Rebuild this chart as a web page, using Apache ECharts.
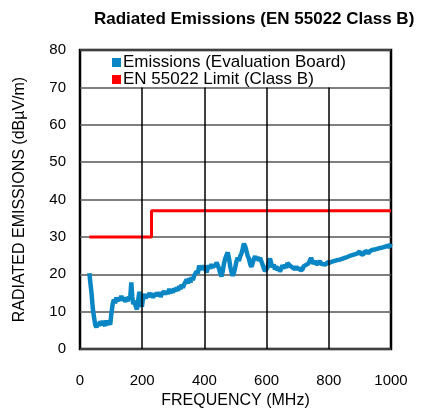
<!DOCTYPE html>
<html>
<head>
<meta charset="utf-8">
<script src="https://cdn.jsdelivr.net/npm/echarts@6/dist/echarts.min.js"></script>
<style>
    body { margin: 0; background: #fff; }
    #chart { width: 440px; height: 415px; }
</style>
</head>
<body>
<div id="chart"></div>
<script>
// Emissions trace (MHz, dBuV/m)
var freq = [30, 33, 37, 41, 45, 49, 53, 57, 61, 65, 69, 73, 77, 81, 85, 89, 93, 97, 101, 105,
    109, 113, 117, 121, 125, 129, 133, 137, 141, 145, 149, 153, 157, 161, 165, 168, 171, 175, 179, 183,
    187, 191, 195, 199, 203, 207, 211, 215, 219, 223, 227, 231, 235, 239, 243, 247, 251, 255, 259, 263,
    267, 271, 275, 279, 283, 287, 291, 295, 299, 303, 307, 311, 315, 319, 323, 327, 331, 335, 339, 343,
    347, 351, 355, 359, 363, 367, 371, 375, 379, 383, 387, 391, 395, 399, 403, 407, 411, 415, 419, 423,
    427, 431, 435, 439, 443, 447, 451, 455, 459, 463, 467, 471, 475, 479, 483, 487, 491, 495, 499, 503,
    507, 511, 515, 519, 523, 527, 531, 535, 539, 543, 547, 551, 555, 559, 563, 567, 571, 575, 579, 583,
    587, 591, 595, 599, 603, 607, 611, 615, 619, 623, 627, 631, 635, 639, 643, 647, 651, 655, 659, 663,
    667, 671, 675, 679, 683, 687, 691, 695, 699, 703, 707, 711, 715, 719, 723, 727, 731, 735, 739, 743,
    747, 751, 755, 759, 763, 767, 771, 775, 779, 783, 787, 791, 795, 799, 803, 807, 811, 815, 819, 823,
    827, 831, 835, 839, 843, 847, 851, 855, 859, 863, 867, 871, 875, 879, 883, 887, 891, 895, 899, 903,
    907, 911, 915, 919, 923, 927, 931, 935, 939, 943, 947, 951, 955, 959, 963, 967, 971, 975, 979, 983,
    987, 991, 995, 999];
var emissions = [20.3, 18, 15, 11, 8.5, 6.5, 5.8, 7, 6.2, 7.4, 6.3, 7.5, 6.8, 6.2, 7.6, 6.6, 7.2, 6.5, 9.5, 12,
    13.2, 12.2, 13.8, 12.8, 13.6, 12.9, 14.2, 13.1, 13.8, 12.6, 13.5, 12.8, 14, 13.2, 17.8, 14, 12, 12.9, 11.5, 10.6,
    13, 15.3, 12.4, 11.3, 13.8, 14.7, 13.5, 14.6, 13.8, 15, 14.2, 14.9, 13.7, 14.8, 14.1, 15.1, 14.3, 15.2, 13.9, 14.8,
    14.4, 15.4, 14.6, 15.5, 14.7, 16.1, 14.9, 15.8, 15.1, 16.2, 15.4, 16.5, 15.6, 16.8, 16, 17.2, 16.4, 17.3, 16.9, 18.6,
    17.5, 18.9, 17.8, 19.2, 18.4, 19.6, 19.2, 20.8, 20.2, 22.3, 21.4, 22, 21.2, 22.4, 21.3, 20.5, 21.6, 22.3, 21.5, 22.7,
    21.8, 22.6, 22, 23.2, 22.4, 21.5, 20.2, 19.4, 20.8, 22.9, 24.2, 25.1, 25.8, 24.3, 22.1, 20.6, 19.6, 20.4, 21.8, 23.4,
    24.4, 23.6, 24.8, 25.5, 26.8, 28.2, 27.5, 26.3, 25, 24.2, 22.8, 22, 22.9, 24.1, 24.8, 23.9, 24.6, 23.6, 24.4, 23.5,
    22.6, 21.6, 20.8, 20.3, 21.8, 23.3, 24.2, 22.8, 21.9, 22.6, 21.3, 22.2, 21, 21.8, 20.7, 21.6, 22.4, 21.5, 22.6, 21.7,
    23, 23.4, 22.3, 22.8, 21.8, 22.3, 21.4, 22.1, 21.2, 21.8, 21.1, 21.6, 21.2, 22.1, 21.7, 22.5, 22, 22.9, 22.6, 24.4,
    23.5, 22.8, 23.6, 22.7, 23.2, 22.9, 23.6, 22.8, 23.3, 22.7, 23.1, 22.6, 23.2, 22.7, 23.1, 22.8, 23.4, 23, 23.6, 23.1,
    23.8, 23.3, 23.9, 23.5, 24.1, 23.8, 24.4, 23.9, 24.6, 24.2, 24.9, 24.4, 25.1, 24.7, 25.3, 24.9, 25.5, 25.2, 26.1, 25.4,
    25.9, 25.3, 26, 25.6, 26.2, 25.5, 26.1, 25.9, 26.5, 26, 26.6, 26.2, 26.8, 26.3, 27, 26.6, 27.1, 26.8, 27.3, 27,
    27.6, 27.9, 27.3, 28.2];

// EN 55022 Class B limit (step at 230 MHz)
var limitFreq = [30, 230, 230, 1000];
var limitLevel = [30, 30, 37, 37];

// Vertical grid positions (only drawn up to 70, legend sits above)
var xGrid = [200, 400, 600, 800];
var seriesNames = ['Emissions (Evaluation Board)', 'EN 55022 Limit (Class B)'];

var font = 'Liberation Sans, Arial, sans-serif';

function pairs(xs, ys) {
    return xs.map(function(x, i) { return [x, ys[i]]; });
}

var chart = echarts.init(document.getElementById('chart'), null, { renderer: 'canvas' });

chart.setOption({
    animation: false,
    title: {
        text: 'Radiated Emissions (EN 55022 Class B)',
        left: 89,
        top: 6,
        textStyle: { fontFamily: font, fontSize: 17, fontWeight: 'bold', color: '#000' }
    },
    legend: {
        data: seriesNames,
        orient: 'vertical',
        left: 107,
        top: 49,
        itemWidth: 9,
        itemHeight: 9,
        itemGap: 0,
        icon: 'rect',
        textStyle: { fontFamily: font, fontSize: 17, color: '#000', padding: [0, 0, 0, -3] }
    },
    grid: {
        left: 80,
        right: 49,
        top: 50,
        bottom: 66,
        show: true,
        borderColor: '#000',
        borderWidth: 2.5,
        backgroundColor: 'transparent'
    },
    xAxis: {
        type: 'value',
        min: 0,
        max: 1000,
        interval: 200,
        name: 'FREQUENCY (MHz)',
        nameLocation: 'middle',
        nameGap: 42,
        nameTextStyle: { fontFamily: font, fontSize: 16, color: '#000' },
        axisLine: { show: false },
        axisTick: { show: false },
        splitLine: { show: false },
        axisLabel: {
            fontFamily: font, fontSize: 15, color: '#000', margin: 24,
            formatter: function(v) { return String(v); }
        }
    },
    yAxis: {
        type: 'value',
        min: 0,
        max: 80,
        interval: 10,
        name: 'RADIATED EMISSIONS (dB\u00b5V/m)',
        nameLocation: 'middle',
        nameGap: 52,
        nameTextStyle: { fontFamily: font, fontSize: 16, color: '#000' },
        axisLine: { show: false },
        axisTick: { show: false },
        splitLine: { show: true, lineStyle: { color: '#555', width: 1.5 } },
        axisLabel: { fontFamily: font, fontSize: 15, color: '#000', margin: 14 }
    },
    series: [
        {
            name: seriesNames[0],
            type: 'line',
            data: pairs(freq, emissions),
            showSymbol: false,
            color: '#0a86c4',
            lineStyle: { color: '#0a86c4', width: 4.5 },
            z: 3,
            markLine: {
                silent: true,
                symbol: 'none',
                label: { show: false },
                lineStyle: { color: '#000', width: 1.5, type: 'solid' },
                data: xGrid.map(function(x) { return [{ coord: [x, 0] }, { coord: [x, 70] }]; })
            }
        },
        {
            name: seriesNames[1],
            type: 'line',
            data: pairs(limitFreq, limitLevel),
            showSymbol: false,
            color: '#ff0000',
            lineStyle: { color: '#ff0000', width: 3 },
            z: 4
        }
    ]
});
</script>
</body>
</html>
